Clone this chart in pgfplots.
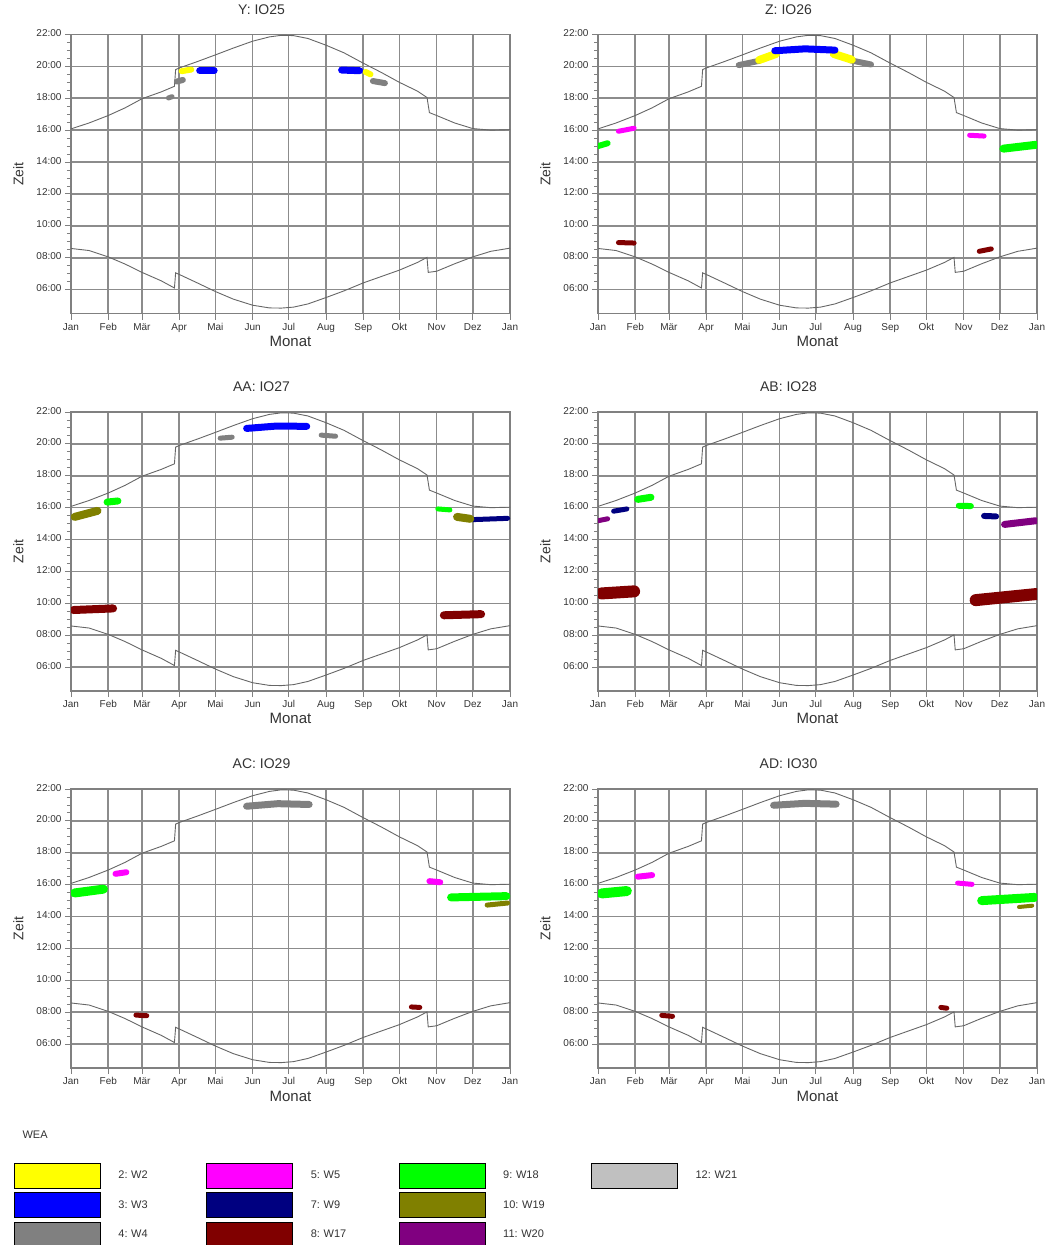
\documentclass[border=0pt]{standalone}
\usepackage{pgfplots}
\pgfplotsset{compat=1.18}
\usepackage{pgfplotstable}
\usepackage{fontspec}
\setmainfont{Liberation Sans}

\definecolor{w2}{RGB}{255,255,0}
\definecolor{w3}{RGB}{0,0,255}
\definecolor{w4}{RGB}{128,128,128}
\definecolor{w5}{RGB}{255,0,255}
\definecolor{w9}{RGB}{0,0,128}
\definecolor{w17}{RGB}{128,0,0}
\definecolor{w18}{RGB}{0,255,0}
\definecolor{w19}{RGB}{128,128,0}
\definecolor{w20}{RGB}{128,0,128}
\definecolor{w21}{RGB}{192,192,192}

% sunset / sunrise, day of year vs. hour
\pgfplotstableread{
d h
0 16.08
15 16.45
31 16.92
45 17.40
59 17.97
75 18.40
86 18.75
87 19.80
90 19.90
105 20.30
120 20.72
135 21.15
151 21.58
165 21.85
175 21.95
185 21.93
197 21.75
212 21.33
227 20.85
243 20.20
258 19.62
273 19.00
288 18.45
296 18.05
298 17.10
304 16.92
319 16.45
334 16.10
349 16.00
365 16.03
}\sunset
\pgfplotstableread{
d h
0 8.58
15 8.45
31 8.05
45 7.60
59 7.08
75 6.55
86 6.10
87 7.05
90 6.95
105 6.42
120 5.88
135 5.40
151 5.02
165 4.85
175 4.84
185 4.90
197 5.10
212 5.50
227 5.92
243 6.42
258 6.82
273 7.22
288 7.70
296 8.02
297 7.08
304 7.15
319 7.62
334 8.05
349 8.40
365 8.60
}\sunrise

\pgfplotsset{
  panel/.style={
    anchor=north west, scale only axis, width=439pt, height=279pt,
    xmin=0, xmax=365, ymin=4.5, ymax=22,
    xtick={0,31,59,90,120,151,181,212,243,273,304,334,365},
    xticklabels={Jan,Feb,Mär,Apr,Mai,Jun,Jul,Aug,Sep,Okt,Nov,Dez,Jan},
    ytick={6,8,...,22},
    yticklabels={06:00,08:00,10:00,12:00,14:00,16:00,18:00,20:00,22:00},
    minor x tick num=4, minor y tick num=3,
    tick pos=left, tick align=outside, major tick length=6pt, minor tick length=4pt,
    tick style={black!50, line width=0.9pt},
    typeset ticklabels with strut,
    grid=major, major grid style={black!45, line width=1.6pt},
    axis line style={black!50, line width=1.6pt},
    tick label style={font=\fontsize{10}{10}\selectfont, black!80},
    xlabel=Monat, ylabel=Zeit,
    xlabel style={at={(axis description cs:0.5,-0.1)}, anchor=center, font=\fontsize{15}{15}\selectfont, black!80},
    ylabel style={at={(axis description cs:-0.12,0.5)}, anchor=center, font=\fontsize{14}{14}\selectfont, black!80},
    title style={at={(axis description cs:0.434,1)}, anchor=base, yshift=14.5pt, font=\fontsize{14}{14}\selectfont, black!80},
  },
  sun/.style={black!60, line width=0.9pt},
  blob/.style={line width=#1pt, line cap=round, line join=round},
}

\begin{document}
\frenchspacing
\begin{tikzpicture}
\useasboundingbox (0pt,0pt) rectangle (1051pt,-1245pt);

% Y: IO25
\begin{axis}[panel, at={(71pt,-34.5pt)}, title={Y: IO25}]
\addplot[sun] table {\sunset};
\addplot[sun] table {\sunrise};
\addplot[w4, blob=5] coordinates {(81,18.02) (84,18.1)};
\addplot[w4, blob=6] coordinates {(88,19.05) (93,19.15)};
\addplot[w2, blob=6] coordinates {(92,19.7) (100,19.8)};
\addplot[w3, blob=7] coordinates {(107,19.72) (119,19.72)};
\addplot[w3, blob=7] coordinates {(225,19.77) (240,19.73)};
\addplot[w2, blob=6] coordinates {(245,19.65) (249,19.5)};
\addplot[w4, blob=6] coordinates {(251,19.08) (261,18.95)};
\end{axis}

% Z: IO26
\begin{axis}[panel, at={(598pt,-34.5pt)}, title={Z: IO26}]
\addplot[sun] table {\sunset};
\addplot[sun] table {\sunrise};
\addplot[w4, blob=6] coordinates {(117,20.08) (134,20.35)};
\addplot[w4, blob=6] coordinates {(210,20.38) (227,20.12)};
\addplot[w2, blob=8] coordinates {(134,20.4) (148,20.78)};
\addplot[w2, blob=8] coordinates {(196,20.78) (211,20.42)};
\addplot[w3, blob=7] coordinates {(147,20.98) (172,21.1) (197,21.02)};
\addplot[w5, blob=5] coordinates {(17,15.93) (30,16.12)};
\addplot[w18, blob=6] coordinates {(0,15.0) (8,15.18)};
\addplot[w17, blob=5] coordinates {(17,8.95) (30,8.92)};
\addplot[w5, blob=5] coordinates {(309,15.68) (321,15.63)};
\addplot[w18, blob=8] coordinates {(337,14.84) (364,15.08)};
\addplot[w17, blob=5] coordinates {(317,8.4) (327,8.55)};
\end{axis}

% AA: IO27
\begin{axis}[panel, at={(71pt,-412pt)}, title={AA: IO27}]
\addplot[sun] table {\sunset};
\addplot[sun] table {\sunrise};
\addplot[w4, blob=5] coordinates {(124,20.36) (134,20.42)};
\addplot[w4, blob=5] coordinates {(208,20.55) (220,20.48)};
\addplot[w3, blob=7] coordinates {(146,20.97) (171,21.12) (196,21.1)};
\addplot[w18, blob=7] coordinates {(30,16.35) (39,16.42)};
\addplot[w19, blob=8] coordinates {(3,15.42) (22,15.8)};
\addplot[w17, blob=8] coordinates {(2,9.58) (35,9.68)};
\addplot[w18, blob=5] coordinates {(305,15.92) (315,15.86)};
\addplot[w9, blob=5] coordinates {(334,15.25) (363,15.33)};
\addplot[w19, blob=8] coordinates {(321,15.42) (332,15.3)};
\addplot[w17, blob=8] coordinates {(310,9.25) (341,9.32)};
\end{axis}

% AB: IO28
\begin{axis}[panel, at={(598pt,-412pt)}, title={AB: IO28}]
\addplot[sun] table {\sunset};
\addplot[sun] table {\sunrise};
\addplot[w20, blob=5] coordinates {(0,15.18) (8,15.3)};
\addplot[w9, blob=5] coordinates {(13,15.78) (24,15.92)};
\addplot[w18, blob=7] coordinates {(33,16.52) (44,16.65)};
\addplot[w17, blob=12] coordinates {(3,10.62) (30,10.75)};
\addplot[w18, blob=6] coordinates {(300,16.12) (310,16.1)};
\addplot[w9, blob=6] coordinates {(321,15.48) (331,15.45)};
\addplot[w20, blob=7] coordinates {(338,14.95) (364,15.18)};
\addplot[w17, blob=12] coordinates {(314,10.2) (364,10.58)};
\end{axis}

% AC: IO29
\begin{axis}[panel, at={(71pt,-789pt)}, title={AC: IO29}]
\addplot[sun] table {\sunset};
\addplot[sun] table {\sunrise};
\addplot[w4, blob=7] coordinates {(146,20.92) (172,21.08) (198,21.03)};
\addplot[w5, blob=6] coordinates {(37,16.68) (46,16.78)};
\addplot[w18, blob=9] coordinates {(3,15.48) (27,15.72)};
\addplot[w17, blob=5] coordinates {(54,7.82) (63,7.78)};
\addplot[w17, blob=5] coordinates {(283,8.33) (290,8.3)};
\addplot[w5, blob=6] coordinates {(298,16.22) (307,16.15)};
\addplot[w18, blob=8] coordinates {(316,15.2) (362,15.28)};
\addplot[w19, blob=5] coordinates {(346,14.72) (363,14.85)};
\end{axis}

% AD: IO30
\begin{axis}[panel, at={(598pt,-789pt)}, title={AD: IO30}]
\addplot[sun] table {\sunset};
\addplot[sun] table {\sunrise};
\addplot[w4, blob=7] coordinates {(146,20.98) (172,21.1) (198,21.05)};
\addplot[w5, blob=6] coordinates {(33,16.5) (45,16.6)};
\addplot[w18, blob=10] coordinates {(3,15.45) (24,15.6)};
\addplot[w17, blob=5] coordinates {(53,7.8) (62,7.74)};
\addplot[w17, blob=5] coordinates {(285,8.3) (290,8.25)};
\addplot[w5, blob=5] coordinates {(299,16.1) (311,16.02)};
\addplot[w18, blob=9] coordinates {(319,15.0) (363,15.2)};
\addplot[w19, blob=4] coordinates {(350,14.6) (361,14.68)};
\end{axis}

% legend
\node[anchor=west, font=\fontsize{11}{11}\selectfont, black!80] at (19pt,-1135pt) {WEA};
\begin{axis}[at={(14pt,-1163pt)}, anchor=north west, hide axis, scale only axis,
  width=10pt, height=10pt, xmin=0, xmax=1, ymin=0, ymax=1,
  legend columns=4, legend cell align=left,
  legend image code/.code={\fill[#1] (0pt,-12.5pt) rectangle (86pt,12.5pt);},
  legend style={at={(0,1)}, anchor=north west, draw=none, fill=none, inner sep=0pt, outer sep=0pt,
    row sep=4pt, font=\fontsize{11}{11}\selectfont,
    nodes={inner sep=0pt, text width=88pt, align=left, text=black!80},
    /tikz/every odd column/.append style={column sep=18pt}}]
\addlegendimage{fill=w2}\addlegendentry{2: W2}
\addlegendimage{fill=w5}\addlegendentry{5: W5}
\addlegendimage{fill=w18}\addlegendentry{9: W18}
\addlegendimage{fill=w21}\addlegendentry{12: W21}
\addlegendimage{fill=w3}\addlegendentry{3: W3}
\addlegendimage{fill=w9}\addlegendentry{7: W9}
\addlegendimage{fill=w19}\addlegendentry{10: W19}
\addlegendimage{empty legend}\addlegendentry{}
\addlegendimage{fill=w4}\addlegendentry{4: W4}
\addlegendimage{fill=w17}\addlegendentry{8: W17}
\addlegendimage{fill=w20}\addlegendentry{11: W20}
\end{axis}
\end{tikzpicture}
\end{document}
